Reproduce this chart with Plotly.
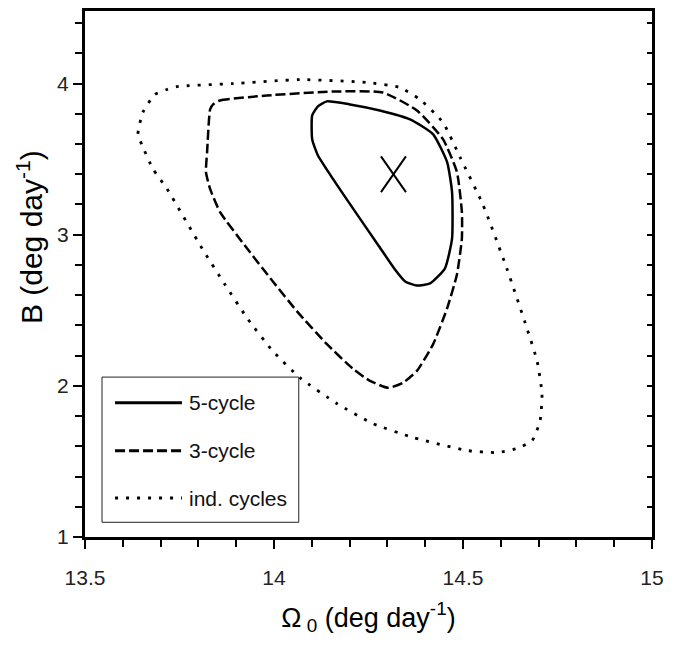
import plotly.graph_objects as go

# Confidence contours in the (Omega_0, B) plane, closed loops traced clockwise
five_x = [14.140, 14.201, 14.280, 14.360, 14.421, 14.458, 14.471, 14.471, 14.452, 14.413,
          14.378, 14.347, 14.320, 14.275, 14.188, 14.116, 14.101, 14.101, 14.116]
five_y = [3.882, 3.862, 3.822, 3.763, 3.664, 3.480, 3.283, 2.974, 2.776, 2.678,
          2.664, 2.691, 2.770, 2.934, 3.250, 3.526, 3.632, 3.789, 3.849]

three_x = [13.839, 13.857, 13.981, 14.156, 14.288, 14.378, 14.447, 14.484, 14.497, 14.497,
           14.484, 14.458, 14.421, 14.378, 14.341, 14.302, 14.254, 14.209, 14.140, 14.061,
           13.997, 13.929, 13.857, 13.831, 13.820, 13.823, 13.831]
three_y = [3.862, 3.888, 3.921, 3.947, 3.941, 3.822, 3.632, 3.414, 3.151, 2.974,
           2.737, 2.513, 2.276, 2.099, 2.020, 1.987, 2.033, 2.112, 2.276, 2.493,
           2.691, 2.908, 3.151, 3.303, 3.414, 3.546, 3.829]

ind_x = [13.640, 13.653, 13.685, 13.717, 13.743, 13.892, 14.069, 14.246, 14.333, 14.386,
         14.447, 14.492, 14.553, 14.616, 14.669, 14.696, 14.709, 14.704, 14.683, 14.643,
         14.590, 14.511, 14.368, 14.262, 14.167, 14.069, 13.997, 13.931, 13.870, 13.810,
         13.717, 13.680, 13.651]
ind_y = [3.664, 3.809, 3.928, 3.961, 3.980, 4.000, 4.026, 4.007, 3.974, 3.895,
         3.743, 3.513, 3.197, 2.776, 2.382, 2.164, 1.947, 1.770, 1.638, 1.586,
         1.559, 1.572, 1.658, 1.750, 1.882, 2.053, 2.230, 2.441, 2.671, 2.908,
         3.303, 3.434, 3.592]

# Best-fit point
best_x = 14.316
best_y = 3.40

series_names = ["5-cycle", "3-cycle", "ind. cycles"]
x_ticks = [13.5, 14, 14.5, 15]
y_ticks = [1, 2, 3, 4]

X_RANGE = [13.5, 15.0]
Y_RANGE = [1.0, 4.48]

FONT = "Liberation Sans, Arial, Helvetica, sans-serif"
DASHES = ["solid", "10px,4px", "3px,8px"]
WIDTHS = [2.5, 2.5, 2.8]

# half-size of the best-fit cross, in data units
CROSS_DX = 0.033
CROSS_DY = 0.118


def closed(xs, ys):
    return list(xs) + [xs[0]], list(ys) + [ys[0]]


fig = go.Figure()

for xs, ys, dash, w, name in zip([five_x, three_x, ind_x], [five_y, three_y, ind_y],
                                 DASHES, WIDTHS, series_names):
    cx, cy = closed(xs, ys)
    fig.add_trace(go.Scatter(
        x=cx, y=cy, mode="lines", name=name, showlegend=False,
        line=dict(color="black", width=w, dash=dash, shape="spline", smoothing=0.5),
        hoverinfo="skip",
    ))

# cross marking the best fit (drawn on the overlay axis sharing the same range)
fig.add_trace(go.Scatter(
    x=[best_x - CROSS_DX, best_x + CROSS_DX, None, best_x - CROSS_DX, best_x + CROSS_DX],
    y=[best_y + CROSS_DY, best_y - CROSS_DY, None, best_y - CROSS_DY, best_y + CROSS_DY],
    mode="lines", line=dict(color="black", width=2), showlegend=False,
    yaxis="y2", hoverinfo="skip",
))

fig.update_layout(
    width=683, height=647,
    margin=dict(l=85, r=31, t=8, b=110),
    plot_bgcolor="white", paper_bgcolor="white",
    font=dict(family=FONT, color="black", size=20),
    xaxis=dict(
        range=X_RANGE, tickvals=x_ticks, ticks="outside", ticklen=9, tickwidth=2,
        tickcolor="black",
        minor=dict(dtick=0.1, tick0=13.5, ticks="outside", ticklen=7, tickwidth=2,
                   tickcolor="black", showgrid=False),
        showline=True, linewidth=3, linecolor="black", mirror=True,
        showgrid=False, zeroline=False,
        tickfont=dict(family=FONT, size=21, color="#222"),
        ticklabelstandoff=11,
        title=dict(text="Ω<sub> 0</sub> (deg day<sup>-1</sup>)",
                   font=dict(family=FONT, size=27), standoff=20),
    ),
    yaxis=dict(
        range=Y_RANGE, tickvals=y_ticks, ticks="outside", ticklen=9, tickwidth=2,
        tickcolor="black",
        minor=dict(dtick=0.2, tick0=1, ticks="outside", ticklen=7, tickwidth=2,
                   tickcolor="black", showgrid=False),
        showline=True, linewidth=3, linecolor="black", mirror=True,
        showgrid=False, zeroline=False,
        tickfont=dict(family=FONT, size=21, color="#222"),
        ticklabelstandoff=0,
    ),
    yaxis2=dict(
        range=Y_RANGE, overlaying="y", side="right", anchor="x",
        tickmode="linear", tick0=1, dtick=0.2, ticks="inside", ticklen=5, tickwidth=2,
        tickcolor="black", showticklabels=False, showline=False, showgrid=False,
        zeroline=False,
    ),
)

# y-axis title, placed beside the upper half of the axis
fig.add_annotation(xref="paper", yref="paper", x=-0.098, y=0.571,
                   text="B (deg day<sup>-1</sup>)", textangle=-90, showarrow=False,
                   xanchor="center", yanchor="middle",
                   font=dict(family=FONT, size=30, color="black"))

# Legend panel drawn in plot-area (paper) coordinates
LEG_BOX = dict(x0=0.030, x1=0.377, y0=0.028, y1=0.304)
LEG_ROWS = [0.255, 0.164, 0.074]
LEG_LINE_X = (0.053, 0.171)
LEG_TEXT_X = 0.180

fig.add_shape(type="rect", xref="paper", yref="paper", **LEG_BOX,
              line=dict(color="#222", width=1), fillcolor="white", layer="above")
for name, dash, yy in zip(series_names, DASHES, LEG_ROWS):
    fig.add_shape(type="line", xref="paper", yref="paper",
                  x0=LEG_LINE_X[0], x1=LEG_LINE_X[1], y0=yy, y1=yy,
                  line=dict(color="black", width=3, dash=dash), layer="above")
    fig.add_annotation(xref="paper", yref="paper", x=LEG_TEXT_X, y=yy, text=name,
                       showarrow=False, xanchor="left", yanchor="middle",
                       font=dict(family=FONT, size=21, color="#111"))

fig.write_html("out.html")
